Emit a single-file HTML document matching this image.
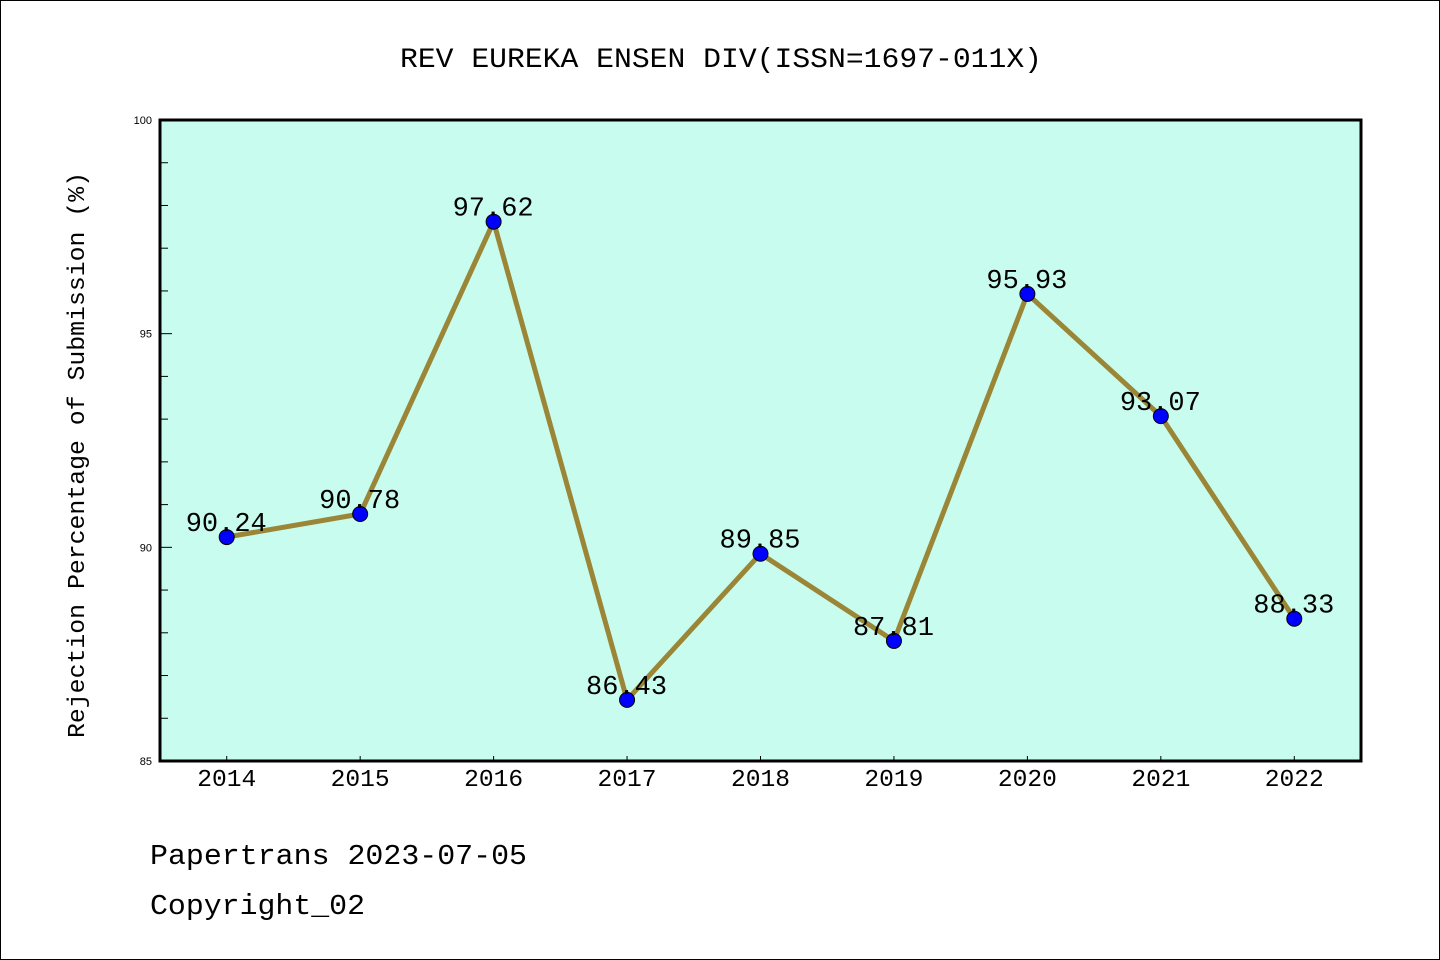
<!DOCTYPE html>
<html><head><meta charset="utf-8"><style>
html,body{margin:0;padding:0;background:#fff;}
svg{display:block;font-family:"Liberation Mono","DejaVu Sans Mono",monospace;}
</style></head><body>
<svg id="c" width="1440" height="960" viewBox="0 0 1440 960" xmlns="http://www.w3.org/2000/svg">
<rect x="0.5" y="0.5" width="1439" height="959" fill="#fff" stroke="#000"/>
<text x="400" y="67" font-size="28" textLength="642" lengthAdjust="spacingAndGlyphs">REV EUREKA ENSEN DIV(ISSN=1697-011X)</text>
<rect x="160" y="120" width="1201" height="641" fill="#c8fcee"/>
<g id="ticks"></g>
<g id="series"></g>
<rect x="160" y="120" width="1201" height="641" fill="none" stroke="#000" stroke-width="3"/>
<text transform="translate(84,738) rotate(-90)" font-size="24" textLength="566" lengthAdjust="spacingAndGlyphs">Rejection Percentage of Submission (%)</text>
<text x="150" y="864" font-size="29" textLength="377" lengthAdjust="spacingAndGlyphs">Papertrans 2023-07-05</text>
<text x="150" y="914" font-size="29" textLength="215" lengthAdjust="spacingAndGlyphs">Copyright_02</text>
</svg>
<script>
const years = [2014,2015,2016,2017,2018,2019,2020,2021,2022];
const values = [90.24,90.78,97.62,86.43,89.85,87.81,95.93,93.07,88.33];
const yTicks = [85,90,95,100];
const NS = "http://www.w3.org/2000/svg";
const X0=160,X1=1361,Y0=120,Y1=761;
const xs = i => X0 + (i+0.5)*(X1-X0)/years.length;
const ys = v => Y1 - (v-85)/(100-85)*(Y1-Y0);
function mk(tag, attrs, parent, txt){const e=document.createElementNS(NS,tag);for(const k in attrs)e.setAttribute(k,attrs[k]);if(txt!==undefined)e.textContent=txt;parent.appendChild(e);return e;}
const tg=document.getElementById('ticks'), sg=document.getElementById('series');
for(let v=85; v<=100; v++){
  const major = yTicks.includes(v);
  const t=mk('line',{x1:X0,x2:X0+(major?12:8),y1:ys(v),y2:ys(v),stroke:'#000','stroke-width':1},tg);
  
  
}
yTicks.forEach(v=>{
  const t=mk('text',{x:X0-8,y:ys(v)+4,'font-size':11,'text-anchor':'end','font-family':'"Liberation Sans",sans-serif'},tg,String(v));
  
  
});
years.forEach((y,i)=>{
  const t=mk('line',{x1:xs(i),x2:xs(i),y1:Y1,y2:Y1-5,stroke:'#000'},tg);
  
  
  const l=mk('text',{x:xs(i)-29.5,y:Y1+25,'font-size':24,textLength:59,lengthAdjust:'spacingAndGlyphs'},tg,String(y));
  
  
});
const pts=values.map((v,i)=>xs(i)+','+ys(v)).join(' ');
const pl=mk('polyline',{points:pts,fill:'none',stroke:'#9a8636','stroke-width':5,'stroke-linejoin':'round'},sg);


values.forEach((v,i)=>{
  const c=mk('circle',{cx:xs(i),cy:ys(v),r:7.5,fill:'#0000ff',stroke:'#000','stroke-width':1},sg);
  
  
});
values.forEach((v,i)=>{
  const t=mk('text',{x:xs(i)-41,y:ys(v)-6,'font-size':27,textLength:81,lengthAdjust:'spacingAndGlyphs'},sg,v.toFixed(2));
  
  
});
</script>
</body></html>
